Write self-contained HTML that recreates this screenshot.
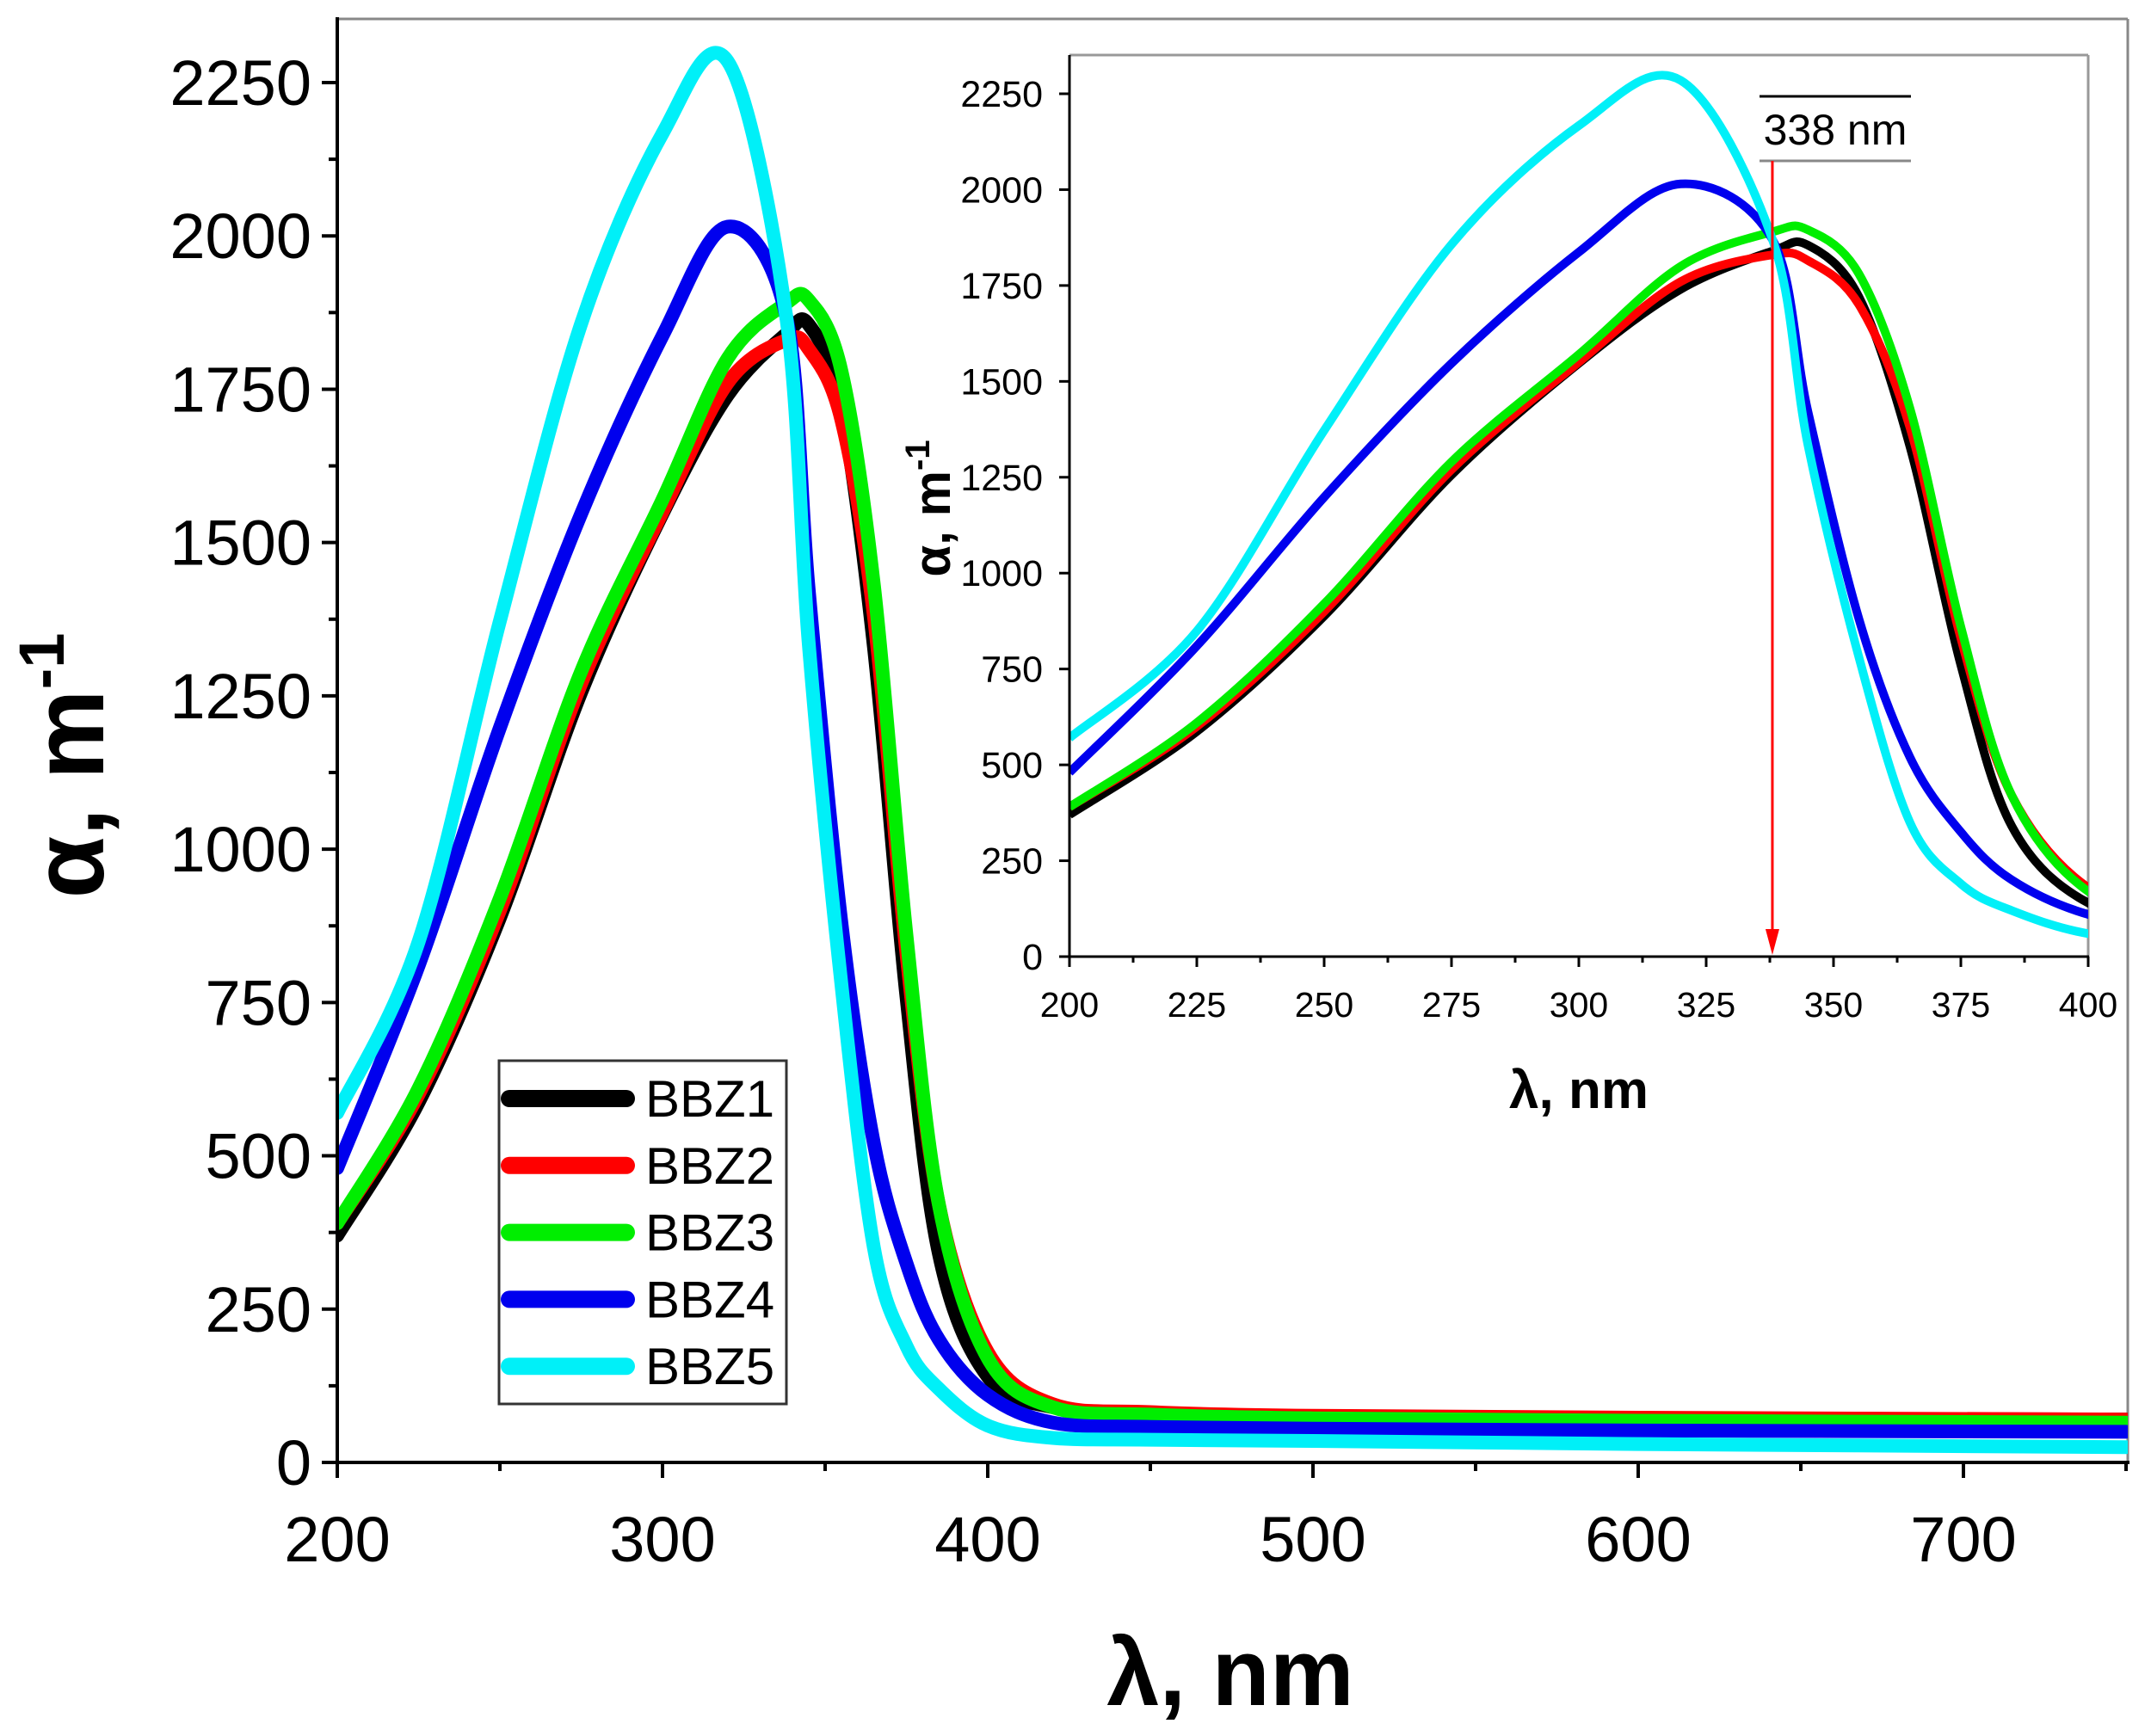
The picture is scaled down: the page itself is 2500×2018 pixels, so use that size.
<!DOCTYPE html>
<html><head><meta charset="utf-8"><style>
html,body{margin:0;padding:0;background:#fff}
svg{display:block;font-family:"Liberation Sans",sans-serif}
</style></head><body>
<svg id="chart" width="2500" height="2018" viewBox="0 0 2500 2018" xmlns="http://www.w3.org/2000/svg">
<defs>
<clipPath id="mainClip"><rect x="392" y="22" width="2081" height="1678"/></clipPath>
<clipPath id="insetClip"><rect x="1243" y="64" width="1184" height="1048"/></clipPath>
</defs>
<g id="main"></g>
<g id="inset"></g>
</svg>
<script>
const wavelengths = [200,225,250,275,300,320,338,345,355,365,375,385,400,420,450,500,600,750];
const seriesNames = ["BBZ1","BBZ2","BBZ3","BBZ4","BBZ5"];
const seriesColors = ["#000000","#ff0000","#00ee00","#0000ee","#00f0f8"];
const bbz1 = [370,587,888,1256,1547,1740,1840,1855,1720,1330,760,340,140,90,80,75,72,70];
const bbz2 = [390,600,900,1270,1550,1760,1830,1815,1700,1380,830,420,180,95,82,76,73,70];
const bbz3 = [390,610,920,1290,1570,1800,1890,1895,1780,1430,860,420,170,90,78,72,68,65];
const bbz4 = [480,810,1198,1547,1837,2015,1870,1420,880,520,325,200,110,65,58,55,52,50];
const bbz5 = [570,849,1372,1857,2167,2285,1870,1333,780,350,190,120,60,40,37,35,30,25];
const mainXTicks = [200,300,400,500,600,700];
const mainYTicks = [0,250,500,750,1000,1250,1500,1750,2000,2250];
const insetXTicks = [200,225,250,275,300,325,350,375,400];
const insetYTicks = [0,250,500,750,1000,1250,1500,1750,2000,2250];
const markerWavelength = 338;
const allSeries = [bbz1,bbz2,bbz3,bbz4,bbz5];

const NS = "http://www.w3.org/2000/svg";
function mk(parent, tag, attrs, text){
  const e = document.createElementNS(NS, tag);
  for (const k in attrs) e.setAttribute(k, attrs[k]);
  if (text !== undefined) e.textContent = text;
  parent.appendChild(e);
  return e;
}
function linScale(d0,d1,r0,r1){ return v => r0 + (v-d0)/(d1-d0)*(r1-r0); }
function smoothPath(pts){
  let d = "M"+pts[0][0].toFixed(1)+","+pts[0][1].toFixed(1);
  for (let i=0;i<pts.length-1;i++){
    const p0=pts[Math.max(0,i-1)], p1=pts[i], p2=pts[i+1], p3=pts[Math.min(pts.length-1,i+2)];
    const c1=[p1[0]+(p2[0]-p0[0])/6, p1[1]+(p2[1]-p0[1])/6];
    const c2=[p2[0]-(p3[0]-p1[0])/6, p2[1]-(p3[1]-p1[1])/6];
    d += " C"+c1[0].toFixed(1)+","+c1[1].toFixed(1)+" "+c2[0].toFixed(1)+","+c2[1].toFixed(1)+" "+p2[0].toFixed(1)+","+p2[1].toFixed(1);
  }
  return d;
}

// ===== MAIN =====
const main = document.getElementById("main");
const mx = linScale(200,750,392,2471);
const my = linScale(0,2250,1700,96);
let el = mk(main,"line",{x1:392,y1:22,x2:2473,y2:22,stroke:"#888","stroke-width":3});


el = mk(main,"line",{x1:2473,y1:22,x2:2473,y2:1700,stroke:"#888","stroke-width":3});


const mg = mk(main,"g",{"clip-path":"url(#mainClip)"});


allSeries.forEach((s,i)=>{
  const pts = wavelengths.map((w,j)=>[mx(w),my(s[j])]);
  const p = mk(mg,"path",{d:smoothPath(pts),fill:"none",stroke:seriesColors[i],"stroke-width":16,"stroke-linejoin":"round","stroke-linecap":"round"});
  
  
});
el = mk(main,"line",{x1:392,y1:20,x2:392,y2:1702,stroke:"#000","stroke-width":4});


el = mk(main,"line",{x1:390,y1:1700,x2:2475,y2:1700,stroke:"#000","stroke-width":4});


for (let v=200; v<=750; v+=50){
  const major = v%100===0;
  const t = mk(main,"line",{x1:mx(v),y1:1700,x2:mx(v),y2:major?1718:1710,stroke:"#000","stroke-width":4});
  
  
}
mainXTicks.forEach(v=>{
  const t = mk(main,"text",{x:mx(v),y:1815,"font-size":74,"text-anchor":"middle",fill:"#000"},String(v));
  
  
});
mainYTicks.forEach(v=>{
  const t = mk(main,"line",{x1:374,y1:my(v),x2:392,y2:my(v),stroke:"#000","stroke-width":4});
  
  
  const l = mk(main,"text",{x:362,y:my(v)+26,"font-size":74,"text-anchor":"end",fill:"#000"},String(v));
  
  
});
for (let v=125; v<2250; v+=250){
  const t = mk(main,"line",{x1:382,y1:my(v),x2:392,y2:my(v),stroke:"#000","stroke-width":4});
  
  
}
el = mk(main,"text",{x:1430,y:1982,"font-size":110,"font-weight":"bold","text-anchor":"middle",fill:"#000"},"λ, nm");


el = mk(main,"text",{transform:"translate(120,890) rotate(-90)","font-size":118,"font-weight":"bold","text-anchor":"middle",fill:"#000"});


el.innerHTML = 'α, m<tspan dy="-46" font-size="74">-1</tspan>';
const lg = mk(main,"g",{});


el = mk(lg,"rect",{x:580,y:1233,width:334,height:399,fill:"#fff",stroke:"#333","stroke-width":3});


seriesNames.forEach((n,i)=>{
  const y = 1277 + i*77.8;
  const ln = mk(lg,"line",{x1:592,y1:y,x2:728,y2:y,stroke:seriesColors[i],"stroke-width":20,"stroke-linecap":"round"});
  
  
  const tx = mk(lg,"text",{x:750,y:y+21,"font-size":60,fill:"#000"},n);
  
  
});

// ===== INSET =====
const inset = document.getElementById("inset");
const ix = linScale(200,400,1243,2427);
const iy = linScale(0,2250,1112,109);
el = mk(inset,"line",{x1:1243,y1:64,x2:2427,y2:64,stroke:"#999","stroke-width":3});


el = mk(inset,"line",{x1:2427,y1:64,x2:2427,y2:1112,stroke:"#999","stroke-width":3});


const ig = mk(inset,"g",{"clip-path":"url(#insetClip)"});


allSeries.forEach((s,i)=>{
  const pts = wavelengths.map((w,j)=>[ix(w),iy(s[j])]);
  const p = mk(ig,"path",{d:smoothPath(pts),fill:"none",stroke:seriesColors[i],"stroke-width":10,"stroke-linejoin":"round"});
  
  
});
el = mk(inset,"line",{x1:1243,y1:64,x2:1243,y2:1113,stroke:"#000","stroke-width":3});


el = mk(inset,"line",{x1:1242,y1:1112,x2:2428,y2:1112,stroke:"#000","stroke-width":3});


for (let v=200; v<=400; v+=12.5){
  const major = (v%25)===0;
  const t = mk(inset,"line",{x1:ix(v),y1:1112,x2:ix(v),y2:major?1124:1119,stroke:"#000","stroke-width":3});
  
  
}
insetXTicks.forEach(v=>{
  const t = mk(inset,"text",{x:ix(v),y:1182,"font-size":41,"text-anchor":"middle",fill:"#000"},String(v));
  
  
});
insetYTicks.forEach(v=>{
  const t = mk(inset,"line",{x1:1231,y1:iy(v),x2:1243,y2:iy(v),stroke:"#000","stroke-width":3});
  
  
  const l = mk(inset,"text",{x:1212,y:iy(v)+15,"font-size":43,"text-anchor":"end",fill:"#000"},String(v));
  
  
});
el = mk(inset,"text",{x:1835,y:1288,"font-size":62,"font-weight":"bold","text-anchor":"middle",fill:"#000"},"λ, nm");


el = mk(inset,"text",{transform:"translate(1104,591) rotate(-90)","font-size":60,"font-weight":"bold","text-anchor":"middle",fill:"#000"});


el.innerHTML = 'α, m<tspan dy="-24" font-size="40">-1</tspan>';
const ax = ix(markerWavelength);
el = mk(inset,"line",{x1:2045,y1:112,x2:2221,y2:112,stroke:"#000","stroke-width":3});


el = mk(inset,"line",{x1:2045,y1:187,x2:2221,y2:187,stroke:"#888","stroke-width":3});


el = mk(inset,"text",{x:2133,y:168,"font-size":50,"text-anchor":"middle",fill:"#000"},markerWavelength+" nm");


el = mk(inset,"line",{x1:ax,y1:187,x2:ax,y2:1100,stroke:"#ff0000","stroke-width":3});


el = mk(inset,"polygon",{points:(ax-8)+",1080 "+(ax+8)+",1080 "+ax+",1110",fill:"#ff0000"});


</script>
</body></html>
